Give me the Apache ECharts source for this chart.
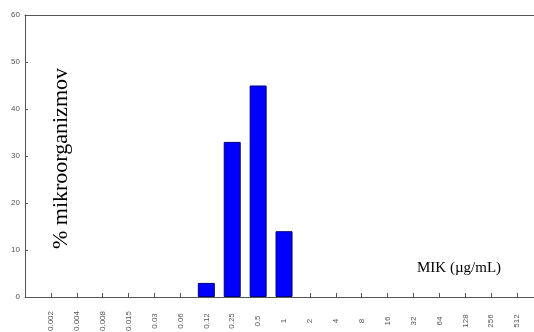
<!DOCTYPE html>
<html><head><meta charset="utf-8">
<script src="https://cdn.jsdelivr.net/npm/echarts@6/dist/echarts.min.js"></script>
<style>html,body{margin:0;padding:0;background:#fff}#c{width:534px;height:332px}</style>
</head><body><div id="c"></div>
<script>
var categories = ['0.002','0.004','0.008','0.015','0.03','0.06','0.12','0.25','0.5','1','2','4','8','16','32','64','128','256','512'];
var percentValues = [0,0,0,0,0,0,3,33,45,14,0,0,0,0,0,0,0,0,0];
var yTicks = [0,10,20,30,40,50,60];

var barData = [];
percentValues.forEach(function(v,i){ if (v > 0) barData.push([i, v]); });

var chart = echarts.init(document.getElementById('c'), null, {renderer:'canvas'});
var axisCol = '#555';
chart.setOption({
  animation: false,
  grid: {left: 25, right: 0, top: 15, bottom: 35, outerBoundsMode: 'none', containLabel: false},
  xAxis: [{
    type: 'value', min: -1, max: 18.65, interval: 1,
    axisLine: {onZero: false, lineStyle: {color: axisCol, width: 1}},
    axisTick: {inside: true, length: 4, lineStyle: {color: axisCol}},
    splitLine: {show: false},
    axisLabel: {
      rotate: 90, margin: 12, showMaxLabel: false, showMinLabel: false,
      color: '#555', fontSize: 8, fontFamily: 'Liberation Sans',
      formatter: function(v){ var i = Math.round(v); if (Math.abs(v-i)>1e-6 || i<0 || i>=categories.length) return ''; return '{a|' + categories[i] + '}'; },
      rich: {a: {width: 24, align: 'center', fontSize: 8, color: '#555', fontFamily: 'Liberation Sans'}}
    }
  },{
    type: 'value', position: 'top', min: -1, max: 18.65,
    axisLine: {show: true, onZero: false, lineStyle: {color: axisCol, width: 1}},
    axisTick: {show: false}, axisLabel: {show: false}, splitLine: {show: false}
  }],
  yAxis: {
    type: 'value', min: yTicks[0], max: yTicks[yTicks.length-1], interval: 10,
    axisLine: {show: true, onZero: false, lineStyle: {color: axisCol, width: 1}},
    axisTick: {show: true, inside: true, length: 3, lineStyle: {color: axisCol}},
    splitLine: {show: false},
    axisLabel: {margin: 5, color: '#555', fontSize: 8, fontFamily: 'Liberation Sans'}
  },
  series: [{
    type: 'bar', xAxisIndex: 0, data: barData, barWidth: 17,
    itemStyle: {color: '#0000ff', borderColor: '#00007a', borderWidth: 1}
  }],
  graphic: [
    {type: 'text', left: 50, top: 68, rotation: Math.PI/2,
     style: {text: '% mikroorganizmov', font: '22px "Liberation Serif"', fill: '#000'}},
    {type: 'text', left: 417, top: 261,
     style: {text: 'MIK (µg/mL)', font: '15px "Liberation Serif"', fill: '#000'}}
  ]
});
</script></body></html>
